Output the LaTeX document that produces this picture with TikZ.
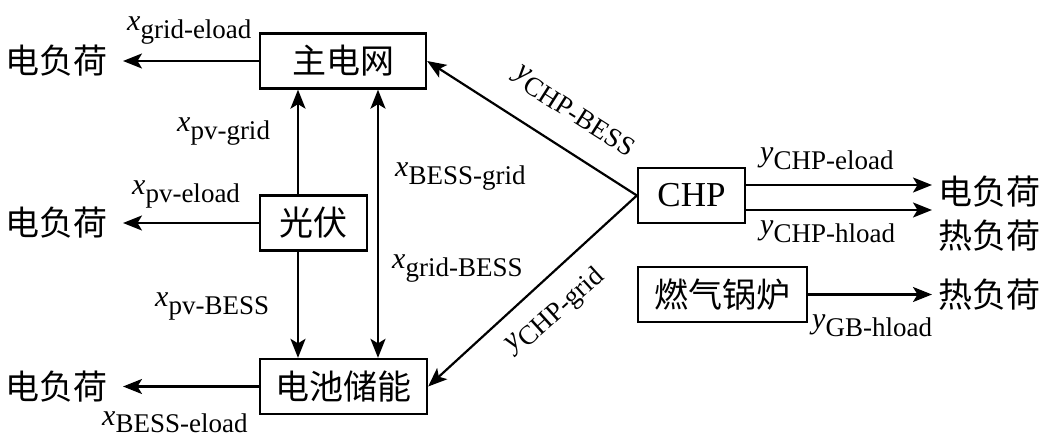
\documentclass[tikz,border=0pt]{standalone}
\usepackage{fontspec}
\setmainfont{Liberation Serif}
\newfontfamily\cjk{Noto Sans CJK SC}
\usetikzlibrary{arrows.meta,calc}
\newcommand{\flowlbl}[2]{{\fontsize{30}{30}\selectfont\itshape #1}\raisebox{-8pt}{\fontsize{27}{27}\selectfont #2}}
\tikzset{
  ftip/.tip={Stealth[length=19pt,width=15pt,inset=4.5pt]},
  box/.style={draw, line width=2.3pt, inner sep=0pt, minimum height=55pt, font={\fontsize{34}{34}\cjk}},
  loadtxt/.style={inner ysep=0pt, font={\fontsize{34}{34}\cjk}},
  arr/.style={line width=2.2pt, -ftip},
  darr/.style={line width=2.2pt, ftip-ftip},
  lbl/.style={inner sep=0pt, anchor=base west},
}
\begin{document}
\begin{tikzpicture}[x=1pt,y=-1pt]
\useasboundingbox (0,0) rectangle (1045,446);
% boxes
\node[box, minimum width=166pt] (grid) at (343,61) {主电网};
\node[box, minimum width=107pt] (pv) at (313.5,223) {光伏};
\node[box, minimum width=167pt] (bess) at (343.5,386.5) {电池储能};
\node[box, minimum width=107pt, font={\fontsize{35}{35}\selectfont}] (chp) at (691.5,195.5) {CHP};
\node[box, minimum width=169pt] (gb) at (722.5,294.5) {燃气锅炉};
% left loads
\node[loadtxt, anchor=east, inner xsep=15pt] (L1) at (123,61) {电负荷};
\node[loadtxt, anchor=east, inner xsep=15pt] (L2) at (123,223) {电负荷};
\node[loadtxt, anchor=east, inner xsep=15pt] (L3) at (123,386.5) {电负荷};
% right loads
\coordinate (tE) at (932,185);
\coordinate (tH) at (932,210);
\node[loadtxt, anchor=west, inner xsep=6pt] (R1) at (932,192) {电负荷};
\node[loadtxt, anchor=west, inner xsep=6pt] (R2) at (932,236) {热负荷};
\node[loadtxt, anchor=west, inner xsep=6pt] (R3) at (932,294.5) {热负荷};
% vertical guide coordinates
\coordinate (vA) at (298,0);
\coordinate (vB) at (378,0);
% connectors
\draw[arr] (grid.west) -- (L1.east);
\draw[arr] (pv.west) -- (L2.east);
\draw[arr] (bess.west) -- (L3.east);
\draw[arr] (pv.north -| vA) -- (grid.south -| vA);
\draw[arr] (pv.south -| vA) -- (bess.north -| vA);
\draw[darr] (grid.south -| vB) -- (bess.north -| vB);
\draw[arr] (chp.west) -- (grid.east);
\draw[arr] (chp.west) -- (bess.east);
\draw[arr] (chp.east |- tE) -- (tE);
\draw[arr] (chp.east |- tH) -- (tH);
\draw[arr] (gb.east) -- (R3.west);
% labels
\node[lbl] (l1) at (127,31) {\flowlbl{x}{grid-eload}};
\node[lbl] (l2) at (177,132) {\flowlbl{x}{pv-grid}};
\node[lbl] (l3) at (132,195) {\flowlbl{x}{pv-eload}};
\node[lbl] (l4) at (395,177) {\flowlbl{x}{BESS-grid}};
\node[lbl] (l5) at (392,269) {\flowlbl{x}{grid-BESS}};
\node[lbl] (l6) at (155,307) {\flowlbl{x}{pv-BESS}};
\node[lbl] (l7) at (102,425) {\flowlbl{x}{BESS-eload}};
\node[lbl] (l8) at (760,162) {\flowlbl{y}{CHP-eload}};
\node[lbl] (l9) at (760,235) {\flowlbl{y}{CHP-hload}};
\node[lbl] (l10) at (812,329) {\flowlbl{y}{GB-hload}};
\node[inner sep=0pt, rotate=-32.4] (l11) at (575,111) {\flowlbl{y}{CHP-BESS}};
\node[inner sep=0pt, rotate=42.2] (l12) at (556,312) {\flowlbl{y}{CHP-grid}};
\end{tikzpicture}
\end{document}
